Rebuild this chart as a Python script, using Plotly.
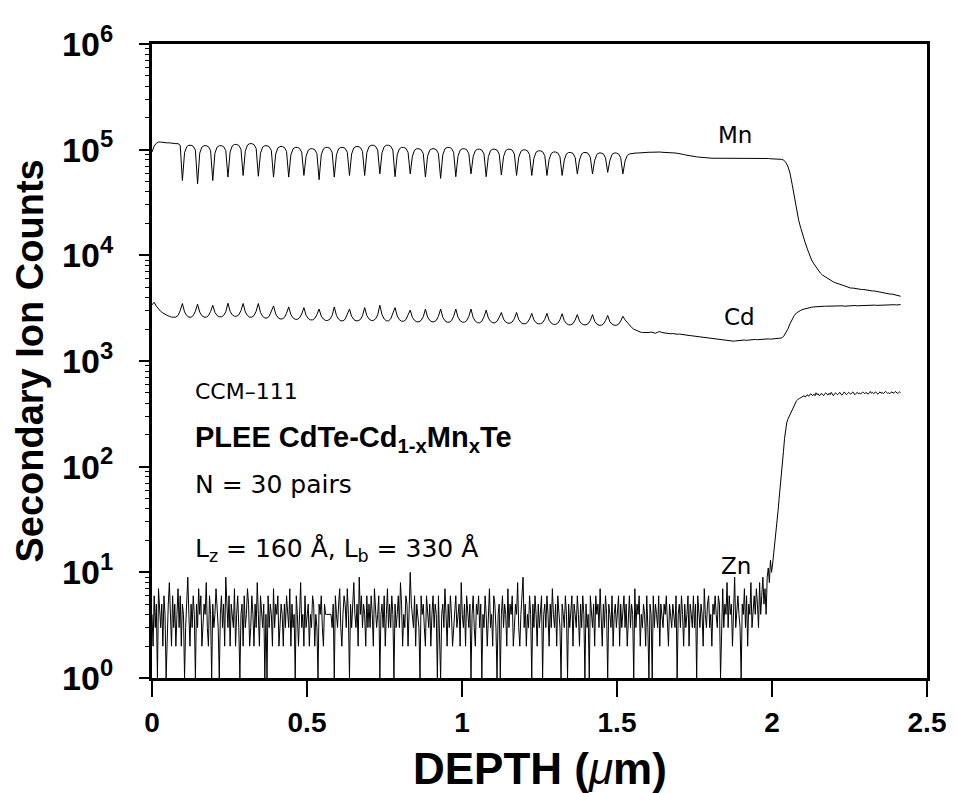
import plotly.graph_objects as go

# ---------------- data ----------------
depth_start = 0.0       # µm, first sample
depth_step = 0.007      # µm between Mn / Cd samples
zn_depth_step = 0.0035  # µm between Zn samples

# Mn secondary ion counts
mn_counts = [
    95000, 108000, 115000, 118000, 118000, 117000, 117000, 116000, 116000, 115000, 115000, 114000, 114000, 110000,
    51000, 93500, 106700, 110000, 110000, 107800, 99000,
    47500, 92700, 105700, 109000, 109000, 106800, 98100,
    51000, 92700, 105700, 109000, 109000, 106800, 98100,
    55000, 95200, 108600, 112000, 112000, 109800, 100800,
    57000, 96900, 110600, 114000, 114000, 111700, 102600,
    56000, 92700, 105700, 109000, 109000, 106800, 98100,
    55000, 91000, 103800, 107000, 107000, 104900, 96300,
    55000, 89300, 101900, 105000, 105000, 102900, 94500,
    57000, 86700, 98900, 102000, 102000, 100000, 91800,
    52000, 89300, 101900, 105000, 105000, 102900, 94500,
    55000, 89300, 101900, 105000, 105000, 102900, 94500,
    57000, 91000, 103800, 107000, 107000, 104900, 96300,
    57000, 93500, 106700, 110000, 110000, 107800, 99000,
    59000, 93500, 106700, 110000, 110000, 107800, 99000,
    55500, 89300, 101900, 105000, 105000, 102900, 94500,
    59000, 86700, 98900, 102000, 102000, 100000, 91800,
    55000, 86700, 98900, 102000, 102000, 100000, 91800,
    53500, 89300, 101900, 105000, 105000, 102900, 94500,
    55500, 86700, 98900, 102000, 102000, 100000, 91800,
    59000, 85900, 98000, 101000, 101000, 99000, 90900,
    55500, 85900, 98000, 101000, 101000, 99000, 90900,
    57500, 85900, 98000, 101000, 101000, 99000, 90900,
    57000, 84600, 96500, 99500, 99500, 97500, 89600,
    57000, 82900, 94600, 97500, 97500, 95600, 87800,
    57000, 80800, 92200, 95000, 95000, 93100, 85500,
    57000, 79900, 91200, 94000, 94000, 92100, 84600,
    59000, 79900, 91200, 94000, 94000, 92100, 84600,
    59000, 79100, 90200, 93000, 93000, 91100, 83700,
    61000, 79100, 90200, 93000, 93000, 91100, 83700,
    59000,
    78000, 88000, 91000, 92000, 92500,
    93000, 93000, 93500, 93500, 94000, 94000, 94500, 94500, 95000, 95000, 95000, 95000, 94500,
    94500, 94000, 94000, 93500, 93500, 93000, 92500, 92000, 91000, 90000, 89000, 88000, 87000, 86500, 86000,
    85500, 85000, 84500, 84000, 84000, 83500, 83500, 83000, 83000, 83000,
    83000, 82500, 83000, 83000, 83500, 83500, 83000, 83000, 83000, 83000,
    83000, 83000, 83500, 83500, 83500, 83000, 83000, 83000, 83000, 83000,
    83000, 82500, 82500, 82500, 82000, 82000, 82000, 82000, 81500, 81000,
    80000, 76000, 70000, 60000, 47000, 36000, 27000, 21500, 18000, 15000,
    13200, 11500, 10000, 9000, 8300, 7700, 7200, 6800, 6500, 6300,
    6100, 5900, 5700, 5600, 5500, 5400, 5300, 5200, 5100, 5000,
    4950, 4900, 4900, 4850, 4800, 4800, 4750, 4750, 4700, 4700, 4650, 4600,
    4600, 4550, 4500, 4500, 4450, 4400, 4350, 4300, 4300, 4250, 4200, 4150, 4100,
]

# Cd secondary ion counts
cd_counts = [
    3400, 3600, 3300, 3100, 2950, 2850, 2750, 2700, 2650, 2600, 2600, 2600, 2700, 3000,
    3500, 2915, 2690, 2600, 2600, 2690, 2960,
    3450, 2900, 2685, 2600, 2600, 2685, 2940,
    3370, 2880, 2695, 2620, 2620, 2695, 2920,
    3520, 2955, 2735, 2650, 2650, 2735, 3000,
    3500, 2915, 2690, 2600, 2600, 2690, 2960,
    3500, 2880, 2645, 2550, 2550, 2645, 2930,
    3320, 2790, 2580, 2500, 2500, 2580, 2830,
    3250, 2750, 2560, 2480, 2480, 2560, 2790,
    3200, 2710, 2525, 2450, 2450, 2525, 2750,
    3100, 2660, 2490, 2420, 2420, 2490, 2690,
    3250, 2700, 2485, 2400, 2400, 2485, 2740,
    3100, 2645, 2470, 2400, 2400, 2470, 2680,
    3200, 2690, 2500, 2420, 2420, 2500, 2730,
    3370, 2740, 2500, 2400, 2400, 2500, 2790,
    3200, 2670, 2460, 2380, 2380, 2460, 2710,
    3030, 2590, 2420, 2350, 2350, 2420, 2620,
    3100, 2610, 2425, 2350, 2350, 2425, 2650,
    3100, 2600, 2405, 2330, 2330, 2405, 2640,
    3100, 2600, 2405, 2330, 2330, 2405, 2640,
    3100, 2580, 2380, 2300, 2300, 2380, 2620,
    3030, 2555, 2375, 2300, 2300, 2375, 2590,
    2880, 2490, 2340, 2280, 2280, 2340, 2520,
    2880, 2470, 2315, 2250, 2250, 2315, 2500,
    2820, 2450, 2305, 2250, 2250, 2305, 2480,
    2820, 2430, 2280, 2220, 2220, 2280, 2460,
    2800, 2410, 2260, 2200, 2200, 2260, 2440,
    2750, 2390, 2255, 2200, 2200, 2255, 2420,
    2750, 2380, 2235, 2180, 2180, 2235, 2410,
    2700, 2360, 2230, 2180, 2180, 2230, 2390,
    2650,
    2450, 2300, 2180, 2080, 2000, 1950, 1900, 1880, 1860, 1850,
    1840, 1860, 1880, 1850, 1830, 1870, 1900, 1860, 1840, 1850, 1830, 1810,
    1820, 1800, 1790, 1800, 1780, 1760, 1770, 1750, 1740, 1730, 1720,
    1710, 1700, 1690, 1680, 1670, 1660, 1650, 1640, 1620, 1610,
    1590, 1580, 1570, 1560, 1550, 1560, 1550, 1540, 1550, 1560,
    1560, 1570, 1580, 1570, 1580, 1590, 1590, 1600, 1590, 1600,
    1610, 1600, 1610, 1620, 1610, 1620, 1620, 1630, 1630, 1650,
    1700, 1820, 2000, 2250, 2500, 2700, 2850, 2950, 3020, 3080,
    3130, 3170, 3200, 3230, 3250, 3270, 3280, 3290, 3300, 3300,
    3300, 3310, 3290, 3300, 3320, 3300, 3310, 3330, 3300, 3320,
    3340, 3320, 3330, 3350, 3330, 3340, 3360, 3340, 3350, 3370,
    3350, 3360, 3380, 3360, 3370, 3390, 3370, 3380, 3400, 3380,
    3390, 3410, 3390, 3400, 3420,
]

# Zn secondary ion counts (finer sampling)
zn_counts = [
    4, 2, 6, 3, 5, 1, 7, 4, 3, 5, 2, 6, 4, 1, 3, 5, 8, 4, 2, 6,
    3, 5, 2, 4, 7, 3, 6, 2, 5, 4, 1, 3, 6, 9, 4, 2, 5, 3, 6, 4,
    1, 5, 3, 7, 4, 6, 2, 3, 5, 4, 8, 3, 2, 6, 4, 1, 5, 3, 4, 7,
    5, 3, 1, 4, 6, 3, 5, 2, 9, 4, 3, 6, 2, 5, 4, 3, 7, 2, 4, 6,
    3, 1, 4, 5, 2, 6, 3, 4, 7, 5, 2, 3, 6, 4, 2, 5, 3, 8, 4, 2,
    6, 4, 3, 5, 1, 4, 1, 6, 3, 5, 4, 2, 7, 3, 5, 4, 6, 2, 3, 5,
    4, 2, 5, 3, 6, 4, 3, 7, 2, 5, 3, 4, 1, 6, 4, 2, 5, 8, 3, 4,
    2, 6, 3, 4, 5, 2, 4, 3, 6, 5, 2, 4, 3, 1, 5, 4, 6, 3, 2, 5,
    4, 4, 4, 4, 4, 4, 3, 5, 1, 6, 4, 3, 5, 7, 3, 2, 4, 6, 5, 3,
    7, 4, 1, 5, 3, 6, 8, 4, 3, 5, 2, 9, 4, 6, 3, 5, 4, 2, 6, 3,
    5, 3, 6, 4, 2, 7, 5, 3, 4, 6, 1, 4, 5, 3, 6, 2, 4, 7, 3, 5,
    3, 6, 4, 1, 5, 3, 4, 6, 3, 8, 5, 2, 4, 3, 6, 5, 2, 4, 10, 5,
    4, 3, 6, 2, 5, 4, 3, 1, 6, 4, 5, 3, 2, 6, 4, 3, 5, 2, 4, 6,
    3, 5, 4, 1, 6, 3, 1, 4, 5, 3, 7, 4, 2, 5, 3, 6, 4, 2, 3, 5,
    6, 3, 4, 5, 2, 8, 4, 3, 5, 2, 6, 4, 3, 5, 1, 4, 6, 3, 2, 5,
    4, 6, 3, 5, 1, 4, 3, 6, 4, 2, 5, 7, 3, 4, 2, 6, 5, 3, 1, 4,
    5, 1, 4, 6, 3, 5, 4, 2, 7, 3, 5, 4, 6, 2, 3, 5, 4, 8, 3, 2,
    4, 6, 9, 3, 5, 2, 4, 3, 6, 4, 1, 5, 3, 6, 4, 2, 5, 3, 4, 6,
    1, 4, 5, 3, 6, 4, 2, 5, 3, 7, 4, 3, 5, 2, 6, 4, 3, 1, 5, 4,
    3, 6, 4, 1, 5, 3, 4, 6, 2, 5, 4, 3, 6, 4, 2, 5, 3, 6, 4, 1,
    5, 3, 4, 1, 6, 4, 3, 5, 2, 6, 4, 5, 3, 7, 4, 2, 5, 3, 6, 4,
    1, 5, 4, 3, 6, 2, 4, 5, 3, 4, 6, 2, 5, 3, 4, 6, 3, 5, 2, 4,
    6, 3, 5, 4, 1, 7, 3, 5, 4, 6, 2, 4, 3, 5, 4, 2, 6, 3, 1, 5,
    4, 1, 6, 3, 5, 4, 3, 6, 2, 5, 4, 3, 5, 4, 6, 3, 2, 5, 4, 3,
    5, 4, 3, 6, 1, 4, 5, 3, 6, 4, 2, 5, 3, 4, 6, 2, 5, 4, 3, 6,
    3, 5, 1, 6, 4, 3, 5, 4, 2, 7, 4, 3, 5, 6, 3, 4, 2, 5, 4, 6,
    4, 3, 6, 5, 1, 4, 7, 3, 5, 4, 8, 3, 6, 4, 5, 2, 4, 9, 3, 5,
    6, 4, 3, 1, 5, 4, 7, 3, 6, 2, 5, 4, 8, 3, 5, 6, 4, 7,
    5, 3, 8, 4, 6, 9, 5, 7, 4, 9, 11, 8, 13, 10, 12, 15, 18, 22, 28, 38,
    50, 68, 85, 110, 140, 185, 230, 260, 280, 295, 305, 330, 350, 370, 390, 405,
    420, 430, 440, 445, 450, 455,
    460, 470, 455, 475, 480, 465, 470, 490, 475, 470,
    485, 470, 500, 480, 490, 470, 475, 495, 480, 470,
    490, 500, 485, 475, 495, 480, 505, 490, 470, 485,
    500, 490, 480, 495, 505, 485, 475, 490, 510, 495,
    480, 490, 505, 495, 485, 500, 510, 490, 480, 495,
    505, 490, 500, 485, 495, 510, 500, 490, 505, 495,
    485, 500, 515, 495, 505, 490, 500, 510, 495, 485,
    500, 510, 495, 505, 490, 500, 515, 505, 495, 500,
    490, 505, 510, 495, 500, 515, 505, 495, 500, 510,
    500,
]

x_tick_vals = [0, 0.5, 1, 1.5, 2, 2.5]
x_tick_text = ["0", "0.5", "1", "1.5", "2", "2.5"]
y_tick_vals = [1, 10, 100, 1000, 10000, 100000, 1000000]
y_tick_exps = ["0", "1", "2", "3", "4", "5", "6"]

species_labels = ["Mn", "Cd", "Zn"]
species_label_x = [1.882, 1.895, 1.885]
species_label_logy = [5.14, 3.416, 1.06]

# ---------------- figure ----------------
FONT = "Liberation Sans, Arial, sans-serif"
THIN = "DejaVu Sans, Liberation Sans, sans-serif"
fig = go.Figure()
for counts, step in ((mn_counts, depth_step), (cd_counts, depth_step), (zn_counts, zn_depth_step)):
    fig.add_trace(go.Scatter(
        x0=depth_start, dx=step, y=counts, mode="lines",
        line=dict(color="black", width=1.0), showlegend=False, hoverinfo="skip",
    ))

fig.update_layout(
    width=950, height=785,
    margin=dict(l=144, r=17, t=29, b=115),
    paper_bgcolor="white", plot_bgcolor="white",
    font=dict(family=FONT, color="black"),
)
fig.update_xaxes(
    range=[0, 2.5], tickmode="array", tickvals=x_tick_vals,
    ticktext=[f"<b>{t}</b>" for t in x_tick_text],
    ticks="outside", ticklen=16, tickwidth=2, tickcolor="black",
    ticklabeloverflow="allow", ticklabelstandoff=2,
    showline=True, linewidth=2.5, linecolor="black", mirror=True,
    showgrid=False, zeroline=False,
    tickfont=dict(size=28, family=FONT, color="black"),
)
fig.update_yaxes(
    type="log", range=[0, 6], tickmode="array", tickvals=y_tick_vals,
    ticktext=[f"<b>10<sup>{e}</sup></b>" for e in y_tick_exps],
    ticks="outside", ticklen=10, tickwidth=2, tickcolor="black",
    ticklabelstandoff=19,
    minor=dict(ticks="outside", ticklen=4, tickwidth=1, tickcolor="black", dtick="D1", showgrid=False),
    showline=True, linewidth=3, linecolor="black", mirror=True,
    showgrid=False, zeroline=False,
    tickfont=dict(size=34, family=FONT, color="black"),
)

for lab, lx, ly in zip(species_labels, species_label_x, species_label_logy):
    fig.add_annotation(x=lx, y=ly, xref="x", yref="y", text=lab, showarrow=False,
                       font=dict(size=23, family=THIN, color="black"))

info_lines = [
    ("CCM\u2013111", 2.713, 22, THIN),
    ("<b>PLEE CdTe-Cd<sub>1-x</sub>Mn<sub>x</sub>Te</b>", 2.26, 29, FONT),
    ("N = 30 pairs", 1.83, 25, THIN),
    ("L<sub>z</sub> = 160 \u00c5, L<sub>b</sub> = 330 \u00c5", 1.21, 25, THIN),
]
for txt, ly, sz, fam in info_lines:
    fig.add_annotation(x=0.133, y=ly, xref="x", yref="y", text=txt, showarrow=False,
                       xanchor="left", yanchor="middle",
                       font=dict(size=sz, family=fam, color="black"))

fig.add_annotation(x=-0.158, y=0.5, xref="paper", yref="paper", textangle=-90,
                   xanchor="center", yanchor="middle",
                   text="<b>Secondary Ion Counts</b>", showarrow=False,
                   font=dict(size=38, family=FONT, color="black"))
fig.add_annotation(x=0.5, y=-0.1435, xref="paper", yref="paper",
                   xanchor="center", yanchor="middle",
                   text="<b>DEPTH (</b><i>\u03bc</i><b>m)</b>", showarrow=False,
                   font=dict(size=44, family=FONT, color="black"))

fig.write_html("out.html")
